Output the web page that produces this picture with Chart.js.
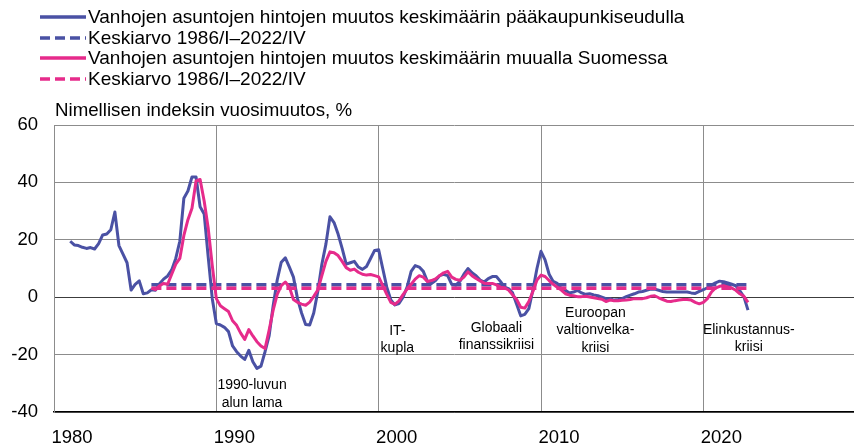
<!DOCTYPE html>
<html>
<head>
<meta charset="utf-8">
<script src="https://cdn.jsdelivr.net/npm/chart.js@4.4.1/dist/chart.umd.min.js"></script>
<style>
  body { margin: 0; background: #fff; font-family: "Liberation Sans", Arial, sans-serif; }
  #wrap { position: relative; width: 854px; height: 446px; overflow: hidden; }
  canvas { position: absolute; left: 0; top: 0; }
  #legend { position: absolute; left: 40px; top: 7px; font-size: 19px; color: #000; }
  .row { display: flex; align-items: center; height: 20.5px; white-space: nowrap; }
  .row svg { width: 46px; height: 6px; margin-right: 2px; flex: none; }
  #otsikko { position: absolute; left: 55px; top: 99px; font-size: 18.7px; color: #000; white-space: nowrap; }
</style>
</head>
<body>
<div id="wrap">
  <canvas id="myChart" width="854" height="446"></canvas>
  <div id="legend"></div>
  <div id="otsikko">Nimellisen indeksin vuosimuutos, %</div>
</div>
<script>
// neljännesvuosittainen vuosimuutos, %
const pksAlku = 1981;   // 1981/I
const muuAlku = 1986;   // 1986/I

const pks = [
  19.5, 18.2, 18, 17.4,      // 1981
  17, 17.3, 16.8, 18.7,      // 1982
  21.7, 22, 23.5, 29.7,      // 1983
  18, 15, 12, 2.5,           // 1984
  4.5, 5.7, 1.2, 1.5,        // 1985
  2.6, 2.4, 4.7, 6.3,        // 1986
  7.4, 9.5, 13.5, 19.5,      // 1987
  34.5, 37, 41.9, 41.9,      // 1988
  31.5, 29, 14, -0.5,        // 1989
  -9.2, -9.7, -10.5, -12,    // 1990
  -17, -19, -20.5, -21.7,    // 1991
  -18.5, -22.5, -24.8, -24,  // 1992
  -19, -13.5, -3, 6,         // 1993
  12.2, 13.7, 10.5, 7,       // 1994
  -0.5, -5.5, -9.5, -9.7,    // 1995
  -5.5, 2, 11.5, 18.5,       // 1996
  28, 26, 22, 17,            // 1997
  11.5, 12, 12.5, 10.5,      // 1998
  9.7, 10.7, 13.5, 16.3,     // 1999
  16.5, 10, 3.5, -1,         // 2000
  -2.7, -2.2, 0, 3.5,        // 2001
  9, 11, 10.5, 9,            // 2002
  5.5, 4.8, 5.8, 7.5,        // 2003
  8, 7.5, 4.5, 4.2,          // 2004
  5.5, 8, 10, 8.5,           // 2005
  7.5, 6, 5.3, 6.5,          // 2006
  7.2, 7.2, 5.5, 3.5,        // 2007
  3, 1.5, -2.5, -6.5,        // 2008
  -6, -4, 2.5, 10,           // 2009
  16, 13, 8, 5.5,            // 2010
  4.8, 3, 2.4, 1.5,          // 2011
  1.8, 2.4, 1.5, 1,          // 2012
  1.2, 0.8, 0.5, 0,          // 2013
  -0.5, -0.5, -1, -0.8,      // 2014
  -0.5, 0.2, 0.7, 1.2,       // 2015
  1.8, 2, 2.4, 2.8,          // 2016
  2.8, 2.4, 2, 1.8,          // 2017
  1.8, 1.8, 1.8, 1.8,        // 2018
  1.8, 1.5, 1.3, 2,          // 2019
  2.6, 3.3, 4.2, 5,          // 2020
  5.6, 5.4, 5, 4.5,          // 2021
  4, 2.2, 0.1, -4.5          // 2022
];

const muu = [
  3.2, 2.6, 4, 4.8,          // 1986
  4.5, 8, 11.5, 13.5,        // 1987
  21.5, 27, 31, 40.5,        // 1988
  41, 33.5, 24, 11,          // 1989
  -0.5, -3, -4, -5,          // 1990
  -8.2, -9.8, -12.5, -14.7,  // 1991
  -11.3, -13.5, -15.5, -17,  // 1992
  -17.9, -11.5, -4.5, 1,     // 1993
  4, 5.3, 3.5, -0.8,         // 1994
  -1.8, -2.4, -2.8, -1.7,    // 1995
  0.3, 2.5, 7.5, 12.5,       // 1996
  15.8, 15.5, 14.5, 12.5,    // 1997
  10.3, 9.4, 9.8, 8.7,       // 1998
  8, 7.7, 7.9, 7.5,          // 1999
  7.1, 4, 1, -1.8,           // 2000
  -2.5, -1.3, 0.9, 2.8,      // 2001
  4.5, 6.3, 7.5, 7,          // 2002
  5.5, 5.8, 6.4, 7.5,        // 2003
  8.5, 9, 7, 6.2,            // 2004
  5.9, 7, 8.8, 7.5,          // 2005
  6.5, 5.7, 4.9, 4.8,        // 2006
  4.8, 4.3, 3.5, 3.2,        // 2007
  2.5, 0.8, -0.8, -3.5,      // 2008
  -3.8, -1.5, 2, 6,          // 2009
  7.7, 7.2, 5.8, 4.5,        // 2010
  3.5, 2.5, 1.2, 0.7,        // 2011
  0.5, 0.2, 0.2, 0.3,        // 2012
  0.1, -0.2, -0.5, -0.7,     // 2013
  -1.5, -1, -1.2, -1.2,      // 2014
  -1.1, -1, -0.8, -0.5,      // 2015
  -0.5, -0.5, -0.2, 0.3,     // 2016
  0.5, -0.2, -0.8, -1.4,     // 2017
  -1.5, -1.2, -1, -0.8,      // 2018
  -0.8, -1, -1.8, -2.3,      // 2019
  -1.8, -0.5, 1.8, 3.2,      // 2020
  3.8, 4, 3.6, 3.2,          // 2021
  2.4, 1.2, 0.3, -1.8        // 2022
];

// keskiarvot 1986/I–2022/IV
const keskiarvoPks = 4.3;
const keskiarvoMuu = 3.1;
const keskiarvoJakso = [1986, 2022.75];

const vuosiTicks = [1980, 1990, 2000, 2010, 2020];
const arvoTicks = [-40, -20, 0, 20, 40, 60];

const sarjanimet = [
  "Vanhojen asuntojen hintojen muutos keskimäärin pääkaupunkiseudulla",
  "Keskiarvo 1986/I–2022/IV",
  "Vanhojen asuntojen hintojen muutos keskimäärin muualla Suomessa",
  "Keskiarvo 1986/I–2022/IV"
];

const huomautukset = [
  { x: 1992.2, y: -30.7, rivit: ["1990-luvun", "alun lama"] },
  { x: 2001.15, y: -11.8, rivit: ["IT-", "kupla"] },
  { x: 2007.25, y: -10.7, rivit: ["Globaali", "finanssikriisi"] },
  { x: 2013.35, y: -5.5, rivit: ["Euroopan", "valtionvelka-", "kriisi"] },
  { x: 2022.8, y: -11.4, rivit: ["Elinkustannus-", "kriisi"] }
];

const sininen = "#4a51a4";
const pinkki = "#e62b8b";

const pisteet = (arvot, alku) => arvot.map((v, i) => ({ x: alku + i / 4, y: v }));
const tasainen = (arvo) => keskiarvoJakso.map((x) => ({ x: x, y: arvo }));

const tekstit = {
  id: "tekstit",
  afterDatasetsDraw(chart) {
    const { ctx, scales } = chart;
    ctx.save();
    ctx.font = '14px "Liberation Sans", Arial, sans-serif';
    ctx.fillStyle = "#000";
    ctx.textAlign = "center";
    ctx.textBaseline = "middle";
    huomautukset.forEach((h) => {
      const px = scales.x.getPixelForValue(h.x);
      const py = scales.y.getPixelForValue(h.y);
      h.rivit.forEach((r, i) => ctx.fillText(r, px, py + i * 17.5));
    });
    ctx.restore();
  }
};

const dataChart = {
  datasets: [
    { label: sarjanimet[0], data: pisteet(pks, pksAlku), borderColor: sininen, borderWidth: 3, order: 4 },
    { label: sarjanimet[1], data: tasainen(keskiarvoPks), borderColor: sininen, borderWidth: 3.5, borderDash: [10, 5], order: 3 },
    { label: sarjanimet[2], data: pisteet(muu, muuAlku), borderColor: pinkki, borderWidth: 3, order: 2 },
    { label: sarjanimet[3], data: tasainen(keskiarvoMuu), borderColor: pinkki, borderWidth: 3.5, borderDash: [10, 5], order: 1 }
  ]
};

const config = {
  type: "line",
  data: dataChart,
  options: {
    responsive: false,
    animation: false,
    devicePixelRatio: 1,
    layout: { padding: { top: 125, right: 0, bottom: 0, left: 0 } },
    elements: {
      point: { radius: 0 },
      line: { tension: 0, borderJoinStyle: "round", borderCapStyle: "butt", fill: false }
    },
    plugins: { legend: { display: false }, tooltip: { enabled: false } },
    scales: {
      x: {
        type: "linear",
        min: 1980,
        max: 2029.28,
        afterFit: (s) => { s.height = 34; },
        afterBuildTicks: (s) => { s.ticks = vuosiTicks.map((v) => ({ value: v })); },
        grid: { color: "#8c8c8c", lineWidth: 1, drawTicks: false },
        border: { color: "#000", width: 1.5 },
        ticks: {
          padding: 15,
          labelOffset: 18,
          color: "#000",
          font: { family: '"Liberation Sans", Arial, sans-serif', size: 18.5 },
          callback: (v) => String(v)
        }
      },
      y: {
        min: -40,
        max: 60,
        afterFit: (s) => { s.width = 54; },
        afterBuildTicks: (s) => { s.ticks = arvoTicks.map((v) => ({ value: v })); },
        grid: {
          color: (c) => (c.tick && c.tick.value === 0 ? "#3c3c3c" : "#8c8c8c"),
          lineWidth: 1,
          drawTicks: false
        },
        border: { color: "#8c8c8c", width: 1 },
        ticks: {
          padding: 16,
          color: "#000",
          font: { family: '"Liberation Sans", Arial, sans-serif', size: 18.5 }
        }
      }
    }
  },
  plugins: [tekstit]
};

const myChart = new Chart(document.getElementById("myChart").getContext("2d"), config);

// selite
const legend = document.getElementById("legend");
dataChart.datasets.forEach((ds) => {
  const row = document.createElement("div");
  row.className = "row";
  const dash = ds.borderDash ? 'stroke-dasharray="10 5"' : "";
  row.innerHTML = `<svg viewBox="0 0 46 6"><line x1="0" y1="3" x2="46" y2="3" stroke="${ds.borderColor}" stroke-width="3.5" ${dash}/></svg><span>${ds.label}</span>`;
  legend.appendChild(row);
});
</script>
</body>
</html>
